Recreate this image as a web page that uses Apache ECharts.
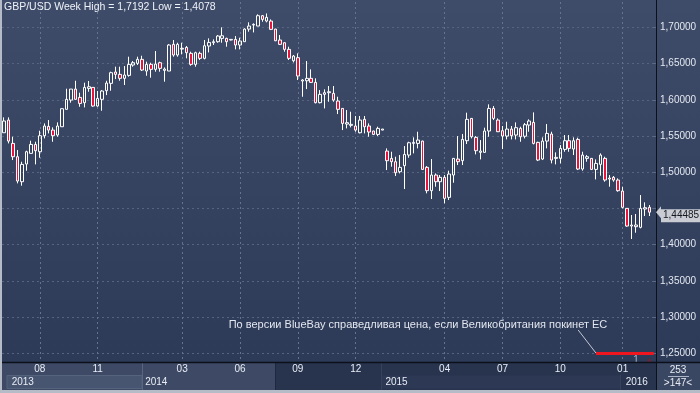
<!DOCTYPE html>
<html><head><meta charset="utf-8">
<script src="https://cdn.jsdelivr.net/npm/echarts@6/dist/echarts.min.js"></script>
<style>html,body{margin:0;padding:0;background:#b5bcc8;}#c{width:700px;height:393px;}</style>
</head><body><div id="c"></div>
<script>
// ---- DATA ----
// weekly candles [open, close, low, high]
const ohlc2013 = [
[1.5545,1.5707,1.5545,1.5757],[1.5720,1.5430,1.5398,1.5757],[1.5398,1.5214,1.5168,1.5490],[1.5214,1.4878,1.4846,1.5306],
[1.4869,1.5108,1.4814,1.5145],[1.5113,1.5283,1.5021,1.5297],[1.5260,1.5384,1.5260,1.5435],[1.5384,1.5297,1.5108,1.5421],
[1.5283,1.5504,1.5200,1.5573],[1.5504,1.5638,1.5467,1.5674],[1.5633,1.5582,1.5536,1.5720],[1.5582,1.5504,1.5421,1.5619],
[1.5513,1.5638,1.5490,1.5688],[1.5628,1.5877,1.5628,1.5881],[1.5868,1.6006,1.5868,1.6153],[1.5996,1.6148,1.5960,1.6148],
[1.6148,1.6006,1.6006,1.6263],[1.6033,1.5950,1.5904,1.6098],[1.5960,1.6171,1.5895,1.6236],[1.6157,1.6180,1.6111,1.6259],
[1.6171,1.5914,1.5904,1.6171],[1.5914,1.6019,1.5904,1.6121],[1.6006,1.6121,1.5849,1.6134],[1.6125,1.6231,1.6065,1.6263],
[1.6227,1.6374,1.6125,1.6388],[1.6383,1.6351,1.6286,1.6457],[1.6351,1.6296,1.6263,1.6457],[1.6296,1.6342,1.6204,1.6466],
[1.6337,1.6489,1.6319,1.6595],[1.6480,1.6512,1.6457,1.6535],[1.6503,1.6558,1.6480,1.6595]
];
const ohlc2014 = [
[1.6558,1.6411,1.6397,1.6608],[1.6397,1.6489,1.6332,1.6526],[1.6489,1.6420,1.6305,1.6512],[1.6420,1.6493,1.6388,1.6673],
[1.6512,1.6434,1.6388,1.6526],[1.6406,1.6424,1.6250,1.6447],[1.6397,1.6756,1.6397,1.6769],[1.6765,1.6618,1.6595,1.6825],
[1.6618,1.6765,1.6595,1.6788],[1.6700,1.6710,1.6627,1.6788],[1.6723,1.6650,1.6572,1.6742],[1.6641,1.6489,1.6470,1.6664],
[1.6489,1.6650,1.6457,1.6664],[1.6641,1.6572,1.6549,1.6664],[1.6572,1.6746,1.6558,1.6825],[1.6742,1.6792,1.6654,1.6848],
[1.6788,1.6802,1.6756,1.6834],[1.6802,1.6880,1.6788,1.6894],[1.6848,1.6884,1.6788,1.7000],[1.6848,1.6802,1.6733,1.6857],
[1.6825,1.6834,1.6820,1.6838],[1.6834,1.6756,1.6696,1.6880],[1.6756,1.6811,1.6696,1.6857],[1.6802,1.6976,1.6802,1.6986],
[1.6976,1.7018,1.6940,1.7069],[1.7032,1.7041,1.6930,1.7055],[1.7018,1.7161,1.7018,1.7180],[1.7161,1.7110,1.7078,1.7170],
[1.7087,1.7138,1.7069,1.7192],[1.7087,1.6972,1.6963,1.7110],[1.6976,1.6815,1.6810,1.6980],[1.6825,1.6765,1.6756,1.6894],
[1.6788,1.6696,1.6664,1.6792],[1.6696,1.6572,1.6549,1.6733],[1.6539,1.6604,1.6516,1.6618],[1.6581,1.6328,1.6273,1.6641],
[1.6259,1.6273,1.6042,1.6286],[1.6263,1.6296,1.6148,1.6535],[1.6296,1.6240,1.6236,1.6420],[1.6240,1.5960,1.5950,1.6296],
[1.5960,1.6075,1.5950,1.6134],[1.6075,1.6098,1.5881,1.6144],[1.6098,1.6111,1.5973,1.6190],[1.6088,1.5996,1.5973,1.6190],
[1.5983,1.5868,1.5803,1.6042],[1.5881,1.5674,1.5582,1.5885],[1.5665,1.5684,1.5605,1.5858],[1.5647,1.5661,1.5619,1.5835],
[1.5638,1.5582,1.5559,1.5776],[1.5545,1.5720,1.5536,1.5776],[1.5730,1.5628,1.5536,1.5776],[1.5638,1.5555,1.5490,1.5674],
[1.5569,1.5522,1.5513,1.5573],[1.5522,1.5605,1.5499,1.5628],[1.5582,1.5596,1.5580,1.5598]
];
const ohlc2015 = [
[1.5292,1.5159,1.5030,1.5329],[1.5191,1.5145,1.5076,1.5283],[1.5145,1.4993,1.4947,1.5214],[1.5007,1.5067,1.4984,1.5237],
[1.5090,1.5246,1.4768,1.5361],[1.5237,1.5407,1.5200,1.5421],[1.5398,1.5412,1.5260,1.5481],[1.5398,1.5444,1.5329,1.5559],
[1.5430,1.5039,1.5030,1.5435],[1.5067,1.4745,1.4708,1.5085],[1.4745,1.4961,1.4630,1.5182],[1.4961,1.4869,1.4800,1.4984],
[1.4869,1.4929,1.4740,1.4961],[1.4929,1.4639,1.4570,1.4961],[1.4653,1.4975,1.4616,1.5021],[1.4961,1.5191,1.4855,1.5195],
[1.5182,1.5145,1.5099,1.5499],[1.5159,1.5453,1.5099,1.5527],[1.5435,1.5730,1.5389,1.5822],[1.5743,1.5490,1.5467,1.5748],
[1.5481,1.5297,1.5246,1.5499],[1.5274,1.5292,1.5177,1.5444],[1.5274,1.5569,1.5270,1.5615],[1.5569,1.5881,1.5490,1.5937],
[1.5881,1.5743,1.5720,1.5914],[1.5720,1.5559,1.5555,1.5743],[1.5573,1.5499,1.5320,1.5638],[1.5499,1.5596,1.5453,1.5697],
[1.5596,1.5504,1.5453,1.5638],[1.5513,1.5615,1.5453,1.5688],[1.5605,1.5490,1.5421,1.5628],[1.5497,1.5656,1.5467,1.5679],
[1.5651,1.5707,1.5559,1.5730],[1.5688,1.5398,1.5384,1.5826],[1.5412,1.5168,1.5154,1.5421],[1.5182,1.5430,1.5168,1.5481],
[1.5430,1.5536,1.5329,1.5665],[1.5527,1.5168,1.5122,1.5559],[1.5191,1.5205,1.5108,1.5274],[1.5191,1.5329,1.5122,1.5375],
[1.5315,1.5435,1.5283,1.5513],[1.5435,1.5329,1.5283,1.5513],[1.5320,1.5435,1.5237,1.5481],[1.5453,1.5044,1.5030,1.5477],
[1.5044,1.5237,1.5021,1.5283],[1.5191,1.5214,1.5145,1.5237],[1.5191,1.5039,1.5030,1.5195],[1.5039,1.5122,1.4901,1.5177],
[1.5108,1.5237,1.4952,1.5260],[1.5191,1.4892,1.4869,1.5214],[1.4906,1.4920,1.4800,1.4961],[1.4929,1.4892,1.4869,1.4947],
[1.4892,1.4745,1.4731,1.4915]
];
const ohlc2016 = [
[1.4740,1.4515,1.4501,1.4800],[1.4501,1.4257,1.4248,1.4505],[1.4257,1.4271,1.4078,1.4409],[1.4248,1.4271,1.4165,1.4423],
[1.4239,1.4501,1.4225,1.4685],[1.4492,1.4510,1.4395,1.4584],[1.4515,1.44485,1.4395,1.4547]
];
const monthTickIdx = [8,21,40,53,66,79,99,112,125,139];
const monthTickLabels = ['08','11','03','06','09','12','04','07','10','01'];
const yearTickIdx = [1,31,85,139];
const yearTickLabels = ['2013','2014','2015','2016'];
const priceTicks = [1.25,1.30,1.35,1.40,1.45,1.50,1.55,1.60,1.65,1.70];
const priceLabelTicks = [1.25,1.30,1.35,1.40,1.50,1.55,1.60,1.65,1.70];
const fairValueLevel = 1.25;          // BlueBay fair value
const fairValueStartIdx = 133;
const titleText = 'GBP/USD Week High = 1,7192 Low = 1,4078';
const noteText = 'По версии BlueBay справедливая цена, если Великобритания покинет ЕС';

// ---- BUILD ----
const candles = ohlc2013.concat(ohlc2014, ohlc2015, ohlc2016);
const N = candles.length + 1;
const categories = [];
for (let i = 0; i < N; i++) categories.push('w' + (i + 1));
const lastClose = candles[candles.length - 1][1];
const fmt = v => v.toFixed(5).replace('.', ',');
const dimFrom = 66;
const FONT = '"Liberation Sans",Arial,sans-serif';
const FS = 10;

const chart = echarts.init(document.getElementById('c'), null, {renderer: 'canvas'});
chart.setOption({
  animation: false,
  backgroundColor: {type: 'linear', x: 0, y: 0, x2: 0, y2: 1,
    colorStops: [{offset: 0, color: '#3f4c69'}, {offset: 1, color: '#2b3856'}]},
  textStyle: {fontFamily: FONT},
  title: {text: titleText, left: 4, top: 2, padding: 0,
    textStyle: {fontSize: 10.5, fontWeight: 'normal', color: '#eef2f8', fontFamily: FONT}},
  grid: {left: 2, top: 2, right: 44, bottom: 31, containLabel: false},
  graphic: [
    {type: 'rect', z: -10, shape: {x: 2, y: 363, width: 654, height: 27}, style: {fill: '#28334e'}},
    {type: 'rect', z: -9, shape: {x: 2, y: 363, width: 273, height: 27}, style: {fill: '#3e4a65'}},
    {type: 'rect', z: -8, shape: {x: 7, y: 375.5, width: 135, height: 13}, style: {fill: '#485570', stroke: '#56637d', lineWidth: 1}},
    {type: 'rect', z: -8, shape: {x: 381, y: 375.5, width: 239, height: 13}, style: {fill: '#2d3954'}},
    {type: 'line', z: -7, shape: {x1: 142.5, y1: 363, x2: 142.5, y2: 390}, style: {stroke: '#5a6680', lineWidth: 1}},
    {type: 'line', z: -7, shape: {x1: 275.5, y1: 363, x2: 275.5, y2: 390}, style: {stroke: '#1e2840', lineWidth: 1}},
    {type: 'line', z: -7, shape: {x1: 381.5, y1: 363, x2: 381.5, y2: 390}, style: {stroke: '#36425c', lineWidth: 1}},
    {type: 'line', z: -7, shape: {x1: 620.5, y1: 375, x2: 620.5, y2: 390}, style: {stroke: '#36425c', lineWidth: 1}},
    {type: 'rect', z: -10, shape: {x: 657, y: 363, width: 43, height: 27}, style: {fill: '#3a4763'}},
    {type: 'text', z: 10, style: {x: 678, y: 370, text: '253', fill: '#e8ecf2', font: FS + 'px ' + FONT, align: 'center', verticalAlign: 'middle'}},
    {type: 'line', z: 10, shape: {x1: 668, y1: 376.5, x2: 689, y2: 376.5}, style: {stroke: '#aab4c6', lineWidth: 1}},
    {type: 'text', z: 10, style: {x: 678, y: 383, text: '>147<', fill: '#e8ecf2', font: FS + 'px ' + FONT, align: 'center', verticalAlign: 'middle'}},
    {type: 'line', z: 50, shape: {x1: 656.5, y1: 0, x2: 656.5, y2: 390}, style: {stroke: '#0b1019', lineWidth: 1}},
    {type: 'line', z: 50, shape: {x1: 2, y1: 362.5, x2: 700, y2: 362.5}, style: {stroke: '#0b1019', lineWidth: 1.5}},
    {type: 'rect', z: 60, shape: {x: 0, y: 0, width: 2, height: 393}, style: {fill: '#b5bcc8'}},
    {type: 'rect', z: 60, shape: {x: 0, y: 390, width: 700, height: 3}, style: {fill: '#b5bcc8'}}
  ],
  xAxis: [
    {type: 'category', data: categories, boundaryGap: true,
      axisLine: {show: false}, axisTick: {show: false, interval: i => monthTickIdx.includes(i)},
      splitLine: {show: true, alignWithLabel: true, interval: i => monthTickIdx.includes(i),
        lineStyle: {color: '#66738f', type: [2, 3], width: 1}},
      axisLabel: {show: true, margin: 2, fontSize: FS, fontFamily: FONT,
        interval: i => monthTickIdx.includes(i),
        formatter: (v, i) => monthTickLabels[monthTickIdx.indexOf(i)] || '',
        color: (v, i) => (i >= dimFrom ? '#74809a' : '#e8edf5')}},
    {type: 'category', data: categories, boundaryGap: true, position: 'bottom', offset: 13,
      axisLine: {show: false}, axisTick: {show: false}, splitLine: {show: false},
      axisLabel: {show: true, margin: 2, fontSize: FS, fontFamily: FONT, align: 'left', padding: [0, 0, 0, 3],
        interval: i => yearTickIdx.includes(i),
        formatter: (v, i) => yearTickLabels[yearTickIdx.indexOf(i)] || '',
        color: (v, i) => (i >= 85 ? '#74809a' : '#e8edf5')}}
  ],
  yAxis: {type: 'value', position: 'right', min: 1.238, max: 1.735, scale: true,
    axisLine: {show: false},
    axisTick: {show: true, inside: true, length: 3, customValues: priceTicks, lineStyle: {color: '#5d6a85'}},
    splitLine: {show: true, lineStyle: {color: '#56647f', type: [2, 3], width: 1}},
    axisLabel: {show: true, margin: 4, fontSize: FS, fontFamily: FONT, color: '#e3e8f0',
      customValues: priceLabelTicks, formatter: v => fmt(v)}},
  series: [{
    type: 'candlestick', data: candles, barWidth: 3,
    itemStyle: {color: 'rgba(0,0,0,0)', color0: '#e8143c', borderColor: '#ffffff', borderColor0: '#ffffff', borderWidth: 1},
    markLine: {silent: true, symbol: ['none', 'none'], animation: false,
      data: [
        {yAxis: lastClose, lineStyle: {color: 'rgba(0,0,0,0)', width: 0},
          label: {show: true, position: 'end', distance: 5, formatter: fmt(lastClose), color: '#15181e',
            backgroundColor: '#c9ccd3', padding: [2, 2, 1, 2], fontSize: FS, fontFamily: FONT}},
        [{coord: [fairValueStartIdx, fairValueLevel], lineStyle: {color: '#f01620', width: 3, type: 'solid'}, label: {show: false}},
         {coord: [N - 0.55, fairValueLevel]}],
        [{coord: [128.7, 1.2822], lineStyle: {color: '#c2c8d4', width: 1, type: 'solid'}, label: {show: false}},
         {coord: [132.8, 1.2504]}]
      ]},
    markPoint: {silent: true, animation: false, symbolSize: 0,
      data: [
        {coord: [92.8, 1.2890], symbol: 'circle', symbolSize: 0,
          label: {show: true, position: 'inside', formatter: noteText, color: '#e2e6ee', fontSize: 11, fontFamily: FONT}},
        {coord: [142.3, 1.2410], symbol: 'circle', symbolSize: 0,
          label: {show: true, position: 'inside', formatter: '1', color: '#a9b8d0', fontSize: FS, fontFamily: FONT}},
        {coord: [144.8, 1.2405], symbol: 'triangle', symbolSize: [7, 5], itemStyle: {color: '#5e2a3c'}, label: {show: false}}
      ]}
  }]
});
// price-tag arrow, positioned through the y scale
const py = chart.convertToPixel({yAxisIndex: 0}, lastClose);
chart.setOption({graphic: [{type: 'polygon', id: 'tagArrow', z: 70,
  shape: {points: [[656, py], [661, py - 6], [661, py + 6]]}, style: {fill: '#c9ccd3'}}]});
</script></body></html>
